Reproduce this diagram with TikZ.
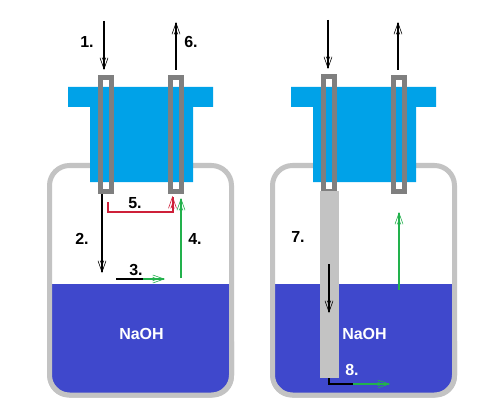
\documentclass[tikz,border=0pt]{standalone}
\usepackage{fontspec}
\setmainfont{Liberation Sans}
\usetikzlibrary{arrows.meta}
\definecolor{capblue}{HTML}{00A2E8}
\definecolor{liquidblue}{HTML}{3F48CC}
\definecolor{bottlegray}{HTML}{C3C3C3}
\definecolor{tubegray}{HTML}{7F7F7F}
\definecolor{flowgreen}{HTML}{22B14C}
\definecolor{flowred}{HTML}{CE2039}
\tikzset{
  x=0.75pt,y=-0.75pt,
  lbl/.style={font=\bfseries\fontsize{12}{14}\selectfont,inner sep=0pt,text=black},
  whitelbl/.style={lbl,text=white},
  flow/.style={line width=1.5pt,-{Stealth[length=4.5pt,width=3pt,sep=-4.5pt]Straight Barb[length=8.5pt,width=6pt,line width=0.45pt]}},
  plain/.style={line width=1.5pt},
  bottle/.style={draw=bottlegray,line width=3.75pt,rounded corners=15pt},
  bottlebase/.style={fill=bottlegray,draw=none,rounded corners=16pt},
  tube/.style={draw=tubegray,line width=3.75pt},
  capfill/.style={fill=capblue,draw=none},
  liquid/.style={fill=liquidblue,draw=none},
  rod/.style={fill=bottlegray,draw=none}
}
\begin{document}
\begin{tikzpicture}
\useasboundingbox (0,0) rectangle (491,413);
\fill[white] (0,0) rectangle (491,413);
% left bottle
\path[bottlebase] (47.5,320) -- (47.5,397.5) -- (234,397.5) -- (234,320) -- cycle;
\path[liquid] (52,284) -- (229,284) -- (229,382) -- (218,393) -- (63,393) -- (52,382) -- cycle;
\draw[bottle] (49.5,165.5) rectangle (231.5,395);
\path[capfill] (68,87) -- (213,87) -- (213,107) -- (193,107) -- (193,182) -- (90,182) -- (90,107) -- (68,107) -- cycle;
\draw[tube] (100.5,78) rectangle (111.5,191.5);
\draw[tube] (170.5,78) rectangle (181.5,191.5);
% right bottle
\path[bottlebase] (270.5,320) -- (270.5,397.5) -- (457,397.5) -- (457,320) -- cycle;
\path[liquid] (275,284) -- (452,284) -- (452,382) -- (441,393) -- (286,393) -- (275,382) -- cycle;
\draw[bottle] (272.5,165.5) rectangle (454.5,395);
\path[capfill] (291,87) -- (436,87) -- (436,107) -- (416,107) -- (416,182) -- (313,182) -- (313,107) -- (291,107) -- cycle;
\draw[tube] (323.5,77) rectangle (334.5,191.5);
\draw[tube] (393.5,78) rectangle (404.5,191.5);
\path[rod] (320,190.5) rectangle (339,378);
% coordinates
\coordinate (a1s) at (104,21); \coordinate (a1e) at (104,70);
\coordinate (a6s) at (176,70); \coordinate (a6e) at (176,22);
\coordinate (a2s) at (102,194); \coordinate (a2e) at (102,273);
\coordinate (a3s) at (116,279); \coordinate (a3m) at (143,279); \coordinate (a3e) at (165,279);
\coordinate (a4s) at (181,278); \coordinate (a4e) at (181,198);
\coordinate (a5s) at (108,202); \coordinate (a5a) at (108,212); \coordinate (a5b) at (172.5,212); \coordinate (a5e) at (172.5,196);
\coordinate (b1s) at (328,20); \coordinate (b1e) at (328,69);
\coordinate (b6s) at (398,70); \coordinate (b6e) at (398,22);
\coordinate (b7s) at (329,264); \coordinate (b7e) at (329,313);
\coordinate (b4s) at (399,290); \coordinate (b4e) at (399,212);
\coordinate (b8s) at (329,378); \coordinate (b8a) at (329,384); \coordinate (b8m) at (353,384); \coordinate (b8e) at (390,384);
% connectors
\draw[flow] (a1s) -- (a1e);
\draw[flow] (a6s) -- (a6e);
\draw[flow] (a2s) -- (a2e);
\draw[plain] (a3s) -- (a3m);
\draw[flow,flowgreen] (a3m) -- (a3e);
\draw[flow,flowgreen] (a4s) -- (a4e);
\draw[flow,flowred,line join=miter] (a5s) -- (a5a) -- (a5b) -- (a5e);
\draw[flow] (b1s) -- (b1e);
\draw[flow] (b6s) -- (b6e);
\draw[flow] (b7s) -- (b7e);
\draw[flow,flowgreen] (b4s) -- (b4e);
\draw[plain,line join=miter] (b8s) -- (b8a) -- (b8m);
\draw[flow,flowgreen] (b8m) -- (b8e);
% labels
\node[lbl] (l1) at (87,42) {1.};
\node[lbl] (l6) at (191,42) {6.};
\node[lbl] (l5) at (135,203) {5.};
\node[lbl] (l2) at (82,239) {2.};
\node[lbl] (l4) at (195,239) {4.};
\node[lbl] (l3) at (136,270) {3.};
\node[whitelbl] (n1) at (141.5,333.5) {NaOH};
\node[lbl] (l7) at (298,237) {7.};
\node[whitelbl] (n2) at (364.5,333.5) {NaOH};
\node[whitelbl] (l8) at (352,370) {8.};
\end{tikzpicture}
\end{document}
